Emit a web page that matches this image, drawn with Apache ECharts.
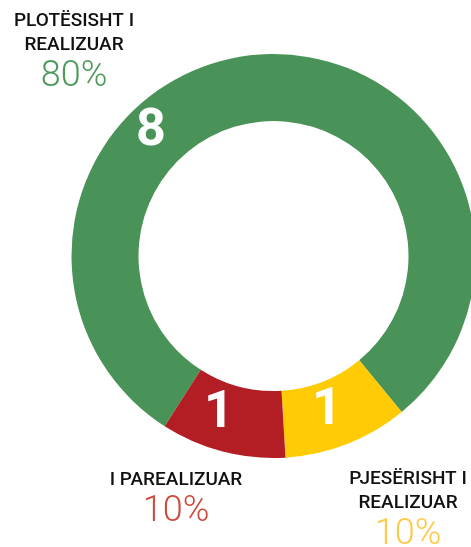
<!DOCTYPE html>
<html>
<head>
<meta charset="utf-8">
<script src="https://cdn.jsdelivr.net/npm/echarts@6/dist/echarts.min.js"></script>
<style>
	html, body { margin: 0; padding: 0; background: #fff; }
	#main { width: 471px; height: 547px; }
</style>
</head>
<body>
<div id="main"></div>
<script>
// data
var names = ['PLOTËSISHT I\nREALIZUAR', 'PJESËRISHT I\nREALIZUAR', 'I PAREALIZUAR'];
var values = [8, 1, 1];
var colors = ['#4a9358', '#fecb05', '#b31e25'];
var textColors = ['#4b9a5b', '#fdca48', '#d04a3c'];

// label placement (px)
var valuePos = [[151, 132], [327, 411], [219, 414]];
var namePos = [[74, 9], [408, 467], [176, 468]];

var total = values.reduce(function(a, b) { return a + b; }, 0);

var ringData = [];
var labelData = [];
for(var i = 0; i < values.length; i++) {
	ringData.push({
		name: names[i],
		value: values[i],
		itemStyle: { color: colors[i] }
	});
	labelData.push({
		name: names[i],
		value: values[i],
		label: {
			rich: {
				n: { fontFamily: 'Roboto', fontWeight: 500, fontSize: 19, lineHeight: 24, color: '#111', align: 'center' },
				p: { fontFamily: 'Roboto', fontWeight: 300, fontSize: 36, lineHeight: 40, color: textColors[i], align: 'center' }
			}
		}
	});
}

var myChart = echarts.init(document.getElementById('main'));
myChart.setOption({
	animation: false,
	series: [{
		type: 'pie',
		center: [273.5, 256],
		radius: [135, 202],
		startAngle: 237.4,
		clockwise: true,
		silent: true,
		data: ringData,
		label: {
			show: true,
			position: 'inside',
			formatter: '{c}',
			color: '#fff',
			fontFamily: 'Roboto',
			fontWeight: 'bold',
			fontSize: 52
		},
		labelLine: { show: false },
		labelLayout: function(params) {
			var p = valuePos[params.dataIndex];
			return { x: p[0], y: p[1], align: 'center', verticalAlign: 'middle' };
		}
	}, {
		type: 'pie',
		center: [273.5, 256],
		radius: [135, 202],
		startAngle: 237.4,
		silent: true,
		z: 1,
		itemStyle: { color: 'transparent' },
		data: labelData,
		label: {
			show: true,
			position: 'outside',
			overflow: 'none',
			formatter: function(p) {
				var lines = p.name.split('\n').map(function(s) { return '{n|' + s + '}'; });
				return lines.join('\n') + '\n{p|' + Math.round(p.value / total * 100) + '%}';
			}
		},
		labelLine: { show: false },
		labelLayout: function(params) {
			var p = namePos[params.dataIndex];
			return { x: p[0], y: p[1], align: 'center', verticalAlign: 'top' };
		}
	}]
});
</script>
</body>
</html>
